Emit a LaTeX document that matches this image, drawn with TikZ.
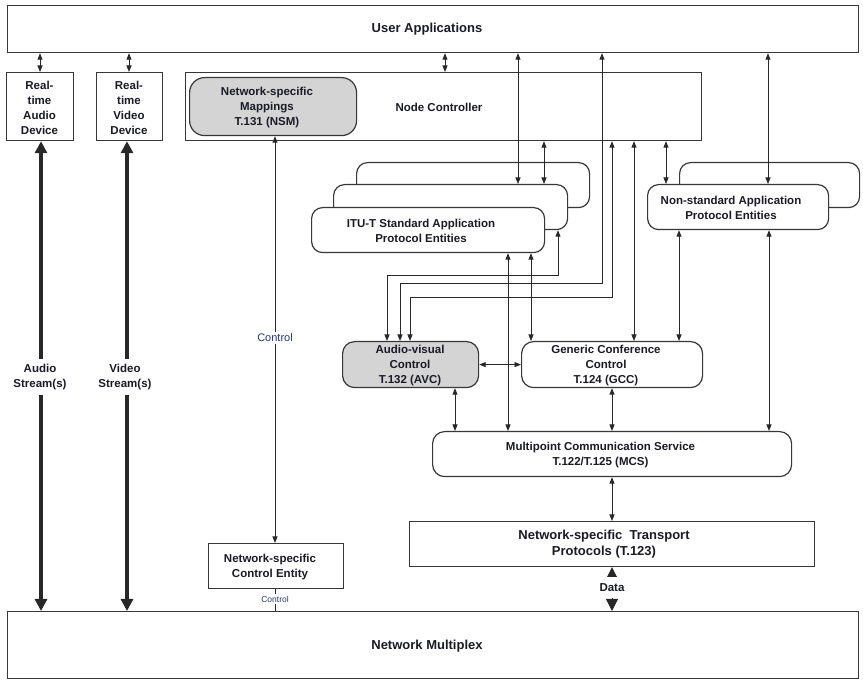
\documentclass[tikz,border=0pt]{standalone}
\usepackage{fontspec}
\setmainfont{Liberation Sans}
\usetikzlibrary{arrows.meta}
\definecolor{txt}{RGB}{26,26,40}
\definecolor{ctl}{RGB}{38,58,120}
\definecolor{bord}{RGB}{55,55,55}
\definecolor{lin}{RGB}{40,40,40}
\definecolor{nsmgray}{RGB}{212,212,212}
\begin{document}
\begin{tikzpicture}[x=1pt,y=-1pt,
  box/.style={draw=bord,line width=1.2pt,fill=white,anchor=north west,inner sep=0pt},
  gbox/.style={box,fill=nsmgray},
  t/.style={font=\bfseries\fontsize{11.5}{15}\selectfont,text=txt,align=center,inner sep=0pt,yshift=-1.5pt},
  tbig/.style={font=\bfseries\fontsize{13}{16}\selectfont,text=txt,align=center,inner sep=0pt,yshift=-1.5pt},
  con/.style={draw=lin,line width=0.9pt,{Triangle[length=6.5pt,width=5pt]}-{Triangle[length=6.5pt,width=5pt]}},
  fat/.style={draw=lin,line width=4pt,{Triangle[length=12pt,width=12pt]}-{Triangle[length=12pt,width=12pt]}},
  ctltext/.style={font=\fontsize{11}{13}\selectfont,text=ctl,fill=white,inner sep=2pt}
]
\useasboundingbox (0,0) rectangle (863,684);

% x positions
\foreach \xx in {40,41,127,129,275,387,400,410,445,455,508,518,531,544,558,602,612,634,666,679,768,769}
  {\coordinate (c\xx) at (\xx,0);}

% boxes
\node[box,minimum width=851pt,minimum height=47pt] (ua) at (7,5) {};
\node[box,minimum width=67pt,minimum height=68pt] (aud) at (6,72) {};
\node[box,minimum width=66pt,minimum height=68pt] (vid) at (96,72) {};
\node[box,minimum width=516pt,minimum height=68pt] (nc) at (185,72) {};
\node[gbox,rounded corners=15pt,minimum width=167pt,minimum height=58pt] (nsm) at (189,77) {};
\node[box,rounded corners=11pt,minimum width=233pt,minimum height=45pt] (itu3) at (356,162) {};
\node[box,rounded corners=11pt,minimum width=234pt,minimum height=45pt] (itu2) at (333,184) {};
\node[box,rounded corners=11pt,minimum width=233pt,minimum height=45pt] (itu1) at (311,207) {};
\node[box,rounded corners=11pt,minimum width=180pt,minimum height=45pt] (ns2) at (679,162) {};
\node[box,rounded corners=11pt,minimum width=181pt,minimum height=45pt] (ns1) at (647,184) {};
\node[gbox,rounded corners=12pt,minimum width=136pt,minimum height=46pt] (avc) at (342,341) {};
\node[box,rounded corners=12pt,minimum width=181pt,minimum height=46pt] (gcc) at (521,341) {};
\node[box,rounded corners=12pt,minimum width=359pt,minimum height=45pt] (mcs) at (432,431) {};
\node[box,minimum width=405pt,minimum height=45pt] (tr) at (409,521) {};
\node[box,minimum width=135pt,minimum height=45pt] (nsce) at (208,543) {};
\node[box,minimum width=851pt,minimum height=67pt] (nm) at (7,611) {};

% texts
\node[tbig] (uaT) at (427,28) {User Applications};
\node[t] (audT) at (39.5,106) {Real-\\time\\Audio\\Device};
\node[t] (vidT) at (129,106) {Real-\\time\\Video\\Device};
\node[t] (ncT) at (439,106) {Node Controller};
\node[t] (nsmT) at (267,106) {Network-specific\\Mappings\\T.131 (NSM)};
\node[t] (ituT) at (421,229) {ITU-T Standard Application\\Protocol Entities};
\node[t] (nsT) at (731,206.5) {Non-standard Application\\Protocol Entities};
\node[t] (avcT) at (410,364) {Audio-visual\\Control\\T.132 (AVC)};
\node[t] (gccT) at (606,364) {Generic Conference\\Control\\T.124 (GCC)};
\node[t] (mcsT) at (600.5,453.5) {Multipoint Communication Service\\T.122/T.125 (MCS)};
\node[tbig] (trT) at (604,543) {Network-specific\ \ Transport\\Protocols (T.123)};
\node[t] (nsceT) at (270,565.5) {Network-specific\\Control Entity};
\node[tbig] (nmT) at (427,645) {Network Multiplex};

% short connectors at top
\draw[con] (ua.south -| c40) -- (aud.north -| c40);
\draw[con] (ua.south -| c129) -- (vid.north -| c129);
\draw[con] (ua.south -| c445) -- (nc.north -| c445);

% to ITU-T entities
\draw[con] (ua.south -| c518) -- (itu2.north -| c518);
\draw[con] (nc.south -| c544) -- (itu2.north -| c544);
\draw[con] (itu1.south -| c508) -- (mcs.north -| c508);
\draw[con] (itu1.south -| c531) -- (gcc.north -| c531);

% elbows to AVC
\draw[con] (ua.south -| c602) -- ++(0,230) -| (avc.north -| c400);
\draw[con] (nc.south -| c612) -- ++(0,156) -| (avc.north -| c410);
\draw[con] (itu2.south -| c558) -- ++(0,45) -| (avc.north -| c387);

% GCC / non-standard
\draw[con] (nc.south -| c634) -- (gcc.north -| c634);
\draw[con] (ns1.south -| c679) -- (gcc.north -| c679);
\draw[con] (nc.south -| c666) -- (ns1.north -| c666);
\draw[con] (ua.south -| c768) -- (ns1.north -| c768);
\draw[con] (ns1.south -| c769) -- (mcs.north -| c769);

% lower
\draw[con] (avc.east) -- (gcc.west);
\draw[con] (avc.south -| c455) -- (mcs.north -| c455);
\draw[con] (gcc.south -| c612) -- (mcs.north -| c612);
\draw[con] (mcs.south -| c612) -- (tr.north -| c612);

% control
\draw[con] (nsm.south -| c275) -- (nsce.north -| c275);
\node[ctltext] (ctl1) at (275,338) {Control};
\draw[draw=lin,line width=0.9pt] (nsce.south -| c275) -- (nm.north -| c275);
\node[ctltext,font=\fontsize{8.5}{10}\selectfont,inner sep=1.5pt] (ctl2) at (275,599) {Control};

% data
\draw[draw=lin,line width=1pt,{Triangle[length=12pt,width=12pt]}-{Triangle[length=12pt,width=12pt]}] (tr.south -| c612) -- (nm.north -| c612);
\node[t,fill=white,minimum height=21pt,minimum width=30pt,yshift=1.5pt] (data) at (612,588) {Data};

% streams
\draw[fat] (aud.south -| c41) -- (nm.north -| c41);
\node[t,fill=white,inner ysep=5pt,inner xsep=1pt] (audS) at (40,375.5) {Audio\\Stream(s)};
\draw[fat] (vid.south -| c127) -- (nm.north -| c127);
\node[t,fill=white,inner ysep=5pt,inner xsep=1pt] (vidS) at (125,375.5) {Video\\Stream(s)};
\end{tikzpicture}
\end{document}
